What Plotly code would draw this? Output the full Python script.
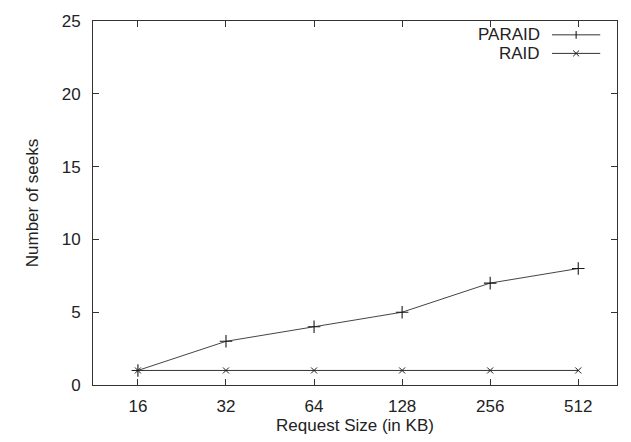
import plotly.graph_objects as go

request_sizes = ["16", "32", "64", "128", "256", "512"]
paraid_seeks = [1, 3, 4, 5, 7, 8]
raid_seeks = [1, 1, 1, 1, 1, 1]
y_ticks = [0, 5, 10, 15, 20, 25]

LINE = "#333333"
MARK = "#1a1a1a"
FONT = "Liberation Sans, Arial, sans-serif"
FS = 17

fig = go.Figure()
fig.add_trace(go.Scatter(
    x=request_sizes, y=paraid_seeks, name="PARAID", mode="lines+markers",
    line=dict(color="#444444", width=1),
    marker=dict(symbol="cross-thin", size=9, line=dict(color=MARK, width=1.1)),
    showlegend=False))
fig.add_trace(go.Scatter(
    x=request_sizes, y=raid_seeks, name="RAID", mode="lines+markers",
    line=dict(color=LINE, width=1),
    marker=dict(symbol="x-thin", size=6, line=dict(color=MARK, width=1)),
    showlegend=False))

# custom legend (text left, sample right), gnuplot style
legend_items = [("PARAID", 0.962, "plus"), ("RAID", 0.911, "x")]
x0, x1, xm = 0.876, 0.968, 0.922
for label, yp, kind in legend_items:
    fig.add_annotation(x=0.857, y=yp, xref="paper", yref="paper", text=label,
                       showarrow=False, xanchor="right", yanchor="middle",
                       font=dict(family=FONT, size=FS, color="#222222"))
    fig.add_shape(type="line", xref="paper", yref="paper", x0=x0, x1=x1, y0=yp, y1=yp,
                  line=dict(color=LINE, width=1))
    dx, dy = 0.0057, 0.0081
    if kind == "plus":
        fig.add_shape(type="line", xref="paper", yref="paper", x0=xm, x1=xm,
                      y0=yp - dy * 1.3, y1=yp + dy * 1.3, line=dict(color=MARK, width=1.1))
    else:
        fig.add_shape(type="line", xref="paper", yref="paper", x0=xm - dx, x1=xm + dx,
                      y0=yp - dy, y1=yp + dy, line=dict(color=MARK, width=1))
        fig.add_shape(type="line", xref="paper", yref="paper", x0=xm - dx, x1=xm + dx,
                      y0=yp + dy, y1=yp - dy, line=dict(color=MARK, width=1))

fig.update_layout(
    width=631, height=442,
    margin=dict(l=93, r=14, t=13, b=57),
    paper_bgcolor="white", plot_bgcolor="white",
    font=dict(family=FONT, size=FS, color="#222222"),
    xaxis=dict(type="category", range=[-0.51, 5.44], showgrid=False, zeroline=False,
               showline=True, linecolor=LINE, linewidth=1, mirror="ticks",
               ticks="inside", ticklen=6, tickcolor=LINE, ticklabelstandoff=6,
               title=dict(text="Request Size (in KB)", standoff=2,
                          font=dict(family=FONT, size=FS))),
    yaxis=dict(range=[0, 25], tickvals=y_ticks, showgrid=False, zeroline=False,
               showline=True, linecolor=LINE, linewidth=1, mirror="ticks",
               ticks="inside", ticklen=6, tickcolor=LINE, ticklabelstandoff=8,
               title=dict(text="Number of seeks", standoff=18,
                          font=dict(family=FONT, size=FS))),
)

fig.write_html("out.html")
